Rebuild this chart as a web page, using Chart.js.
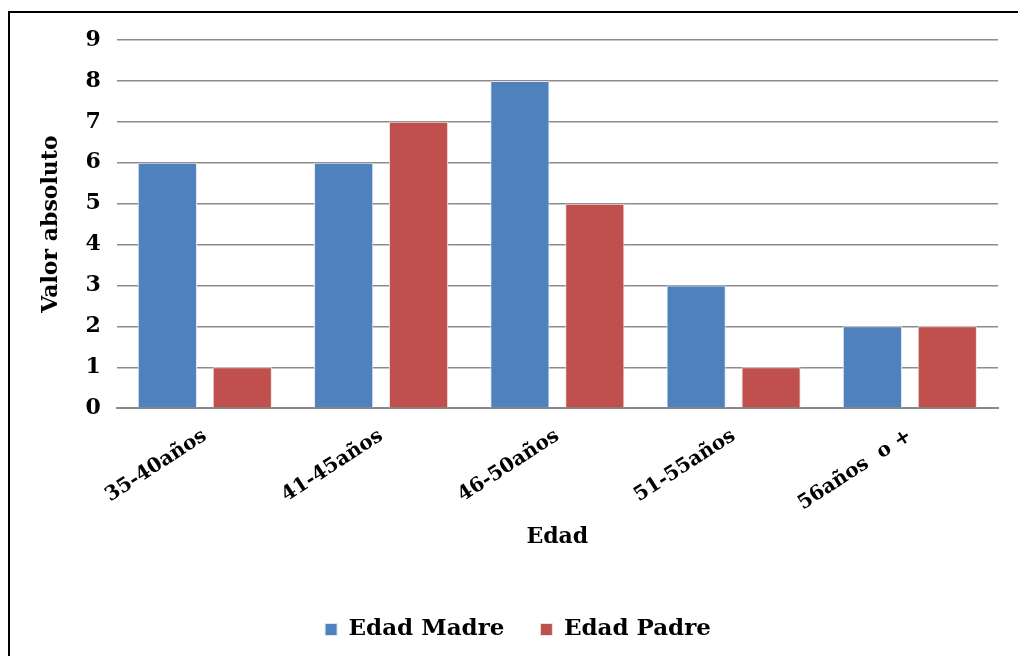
<!DOCTYPE html>
<html>
<head>
<meta charset="utf-8">
<script src="https://cdn.jsdelivr.net/npm/chart.js@4/dist/chart.umd.min.js"></script>
<style>
  body { margin: 0; background: #fff; overflow: hidden; }
  #frame { position: absolute; left: 8px; top: 11px; width: 1020px; height: 700px; border: 2px solid #000; }
  #wrap { position: absolute; left: 0; top: 0; width: 1018px; height: 656px; }
</style>
</head>
<body>
<div id="frame"></div>
<div id="wrap"><canvas id="myChart"></canvas></div>
<script>
// categories and values
var ageGroups = ["35-40años", "41-45años", "46-50años", "51-55años", "56años  o +"];
var madre = [6, 6, 8, 3, 2];
var padre = [1, 7, 5, 1, 2];

var fontFam = "'DejaVu Serif', 'Liberation Serif', serif";
Chart.defaults.font.family = fontFam;
Chart.defaults.font.weight = "bold";
Chart.defaults.color = "#000";

var ctx = document.getElementById("myChart").getContext("2d");

var myChart = new Chart(ctx, {
    type: "bar",
    data: {
        labels: ageGroups,
        datasets: [
            {
                label: "Edad Madre",
                data: madre,
                backgroundColor: "#4F81BD",
                borderColor: "#dfe6ef",
                borderWidth: 1,
                categoryPercentage: 0.85,
                barPercentage: 0.79
            },
            {
                label: "Edad Padre",
                data: padre,
                backgroundColor: "#C0504D",
                borderColor: "#efe2e2",
                borderWidth: 1,
                categoryPercentage: 0.85,
                barPercentage: 0.79
            }
        ]
    },
    options: {
        responsive: true,
        maintainAspectRatio: false,
        animation: false,
        layout: {
            padding: { left: 38, right: 20, top: 40, bottom: 5 }
        },
        plugins: {
            legend: {
                position: "bottom",
                labels: {
                    font: { size: 23, weight: "bold" },
                    boxWidth: 12,
                    boxHeight: 12,
                    padding: 36
                }
            },
            tooltip: { enabled: false }
        },
        scales: {
            x: {
                grid: { display: false },
                border: { display: true, color: "#888", width: 2 },
                ticks: {
                    font: { size: 20, weight: "bold" },
                    minRotation: 33,
                    maxRotation: 33,
                    padding: 8
                },
                title: {
                    display: true,
                    text: "Edad",
                    font: { size: 22, weight: "bold" },
                    padding: { top: 0, bottom: 32 }
                }
            },
            y: {
                min: 0,
                max: 9,
                ticks: {
                    stepSize: 1,
                    font: { size: 22, weight: "bold" },
                    padding: 16
                },
                grid: {
                    color: "#8c8c8c",
                    lineWidth: 1.5,
                    drawTicks: false,
                    tickLength: 0
                },
                border: { display: false },
                title: {
                    display: true,
                    text: "Valor absoluto",
                    font: { size: 22, weight: "bold" },
                    padding: { top: 0, bottom: 5 }
                }
            }
        }
    }
});
</script>
</body>
</html>
